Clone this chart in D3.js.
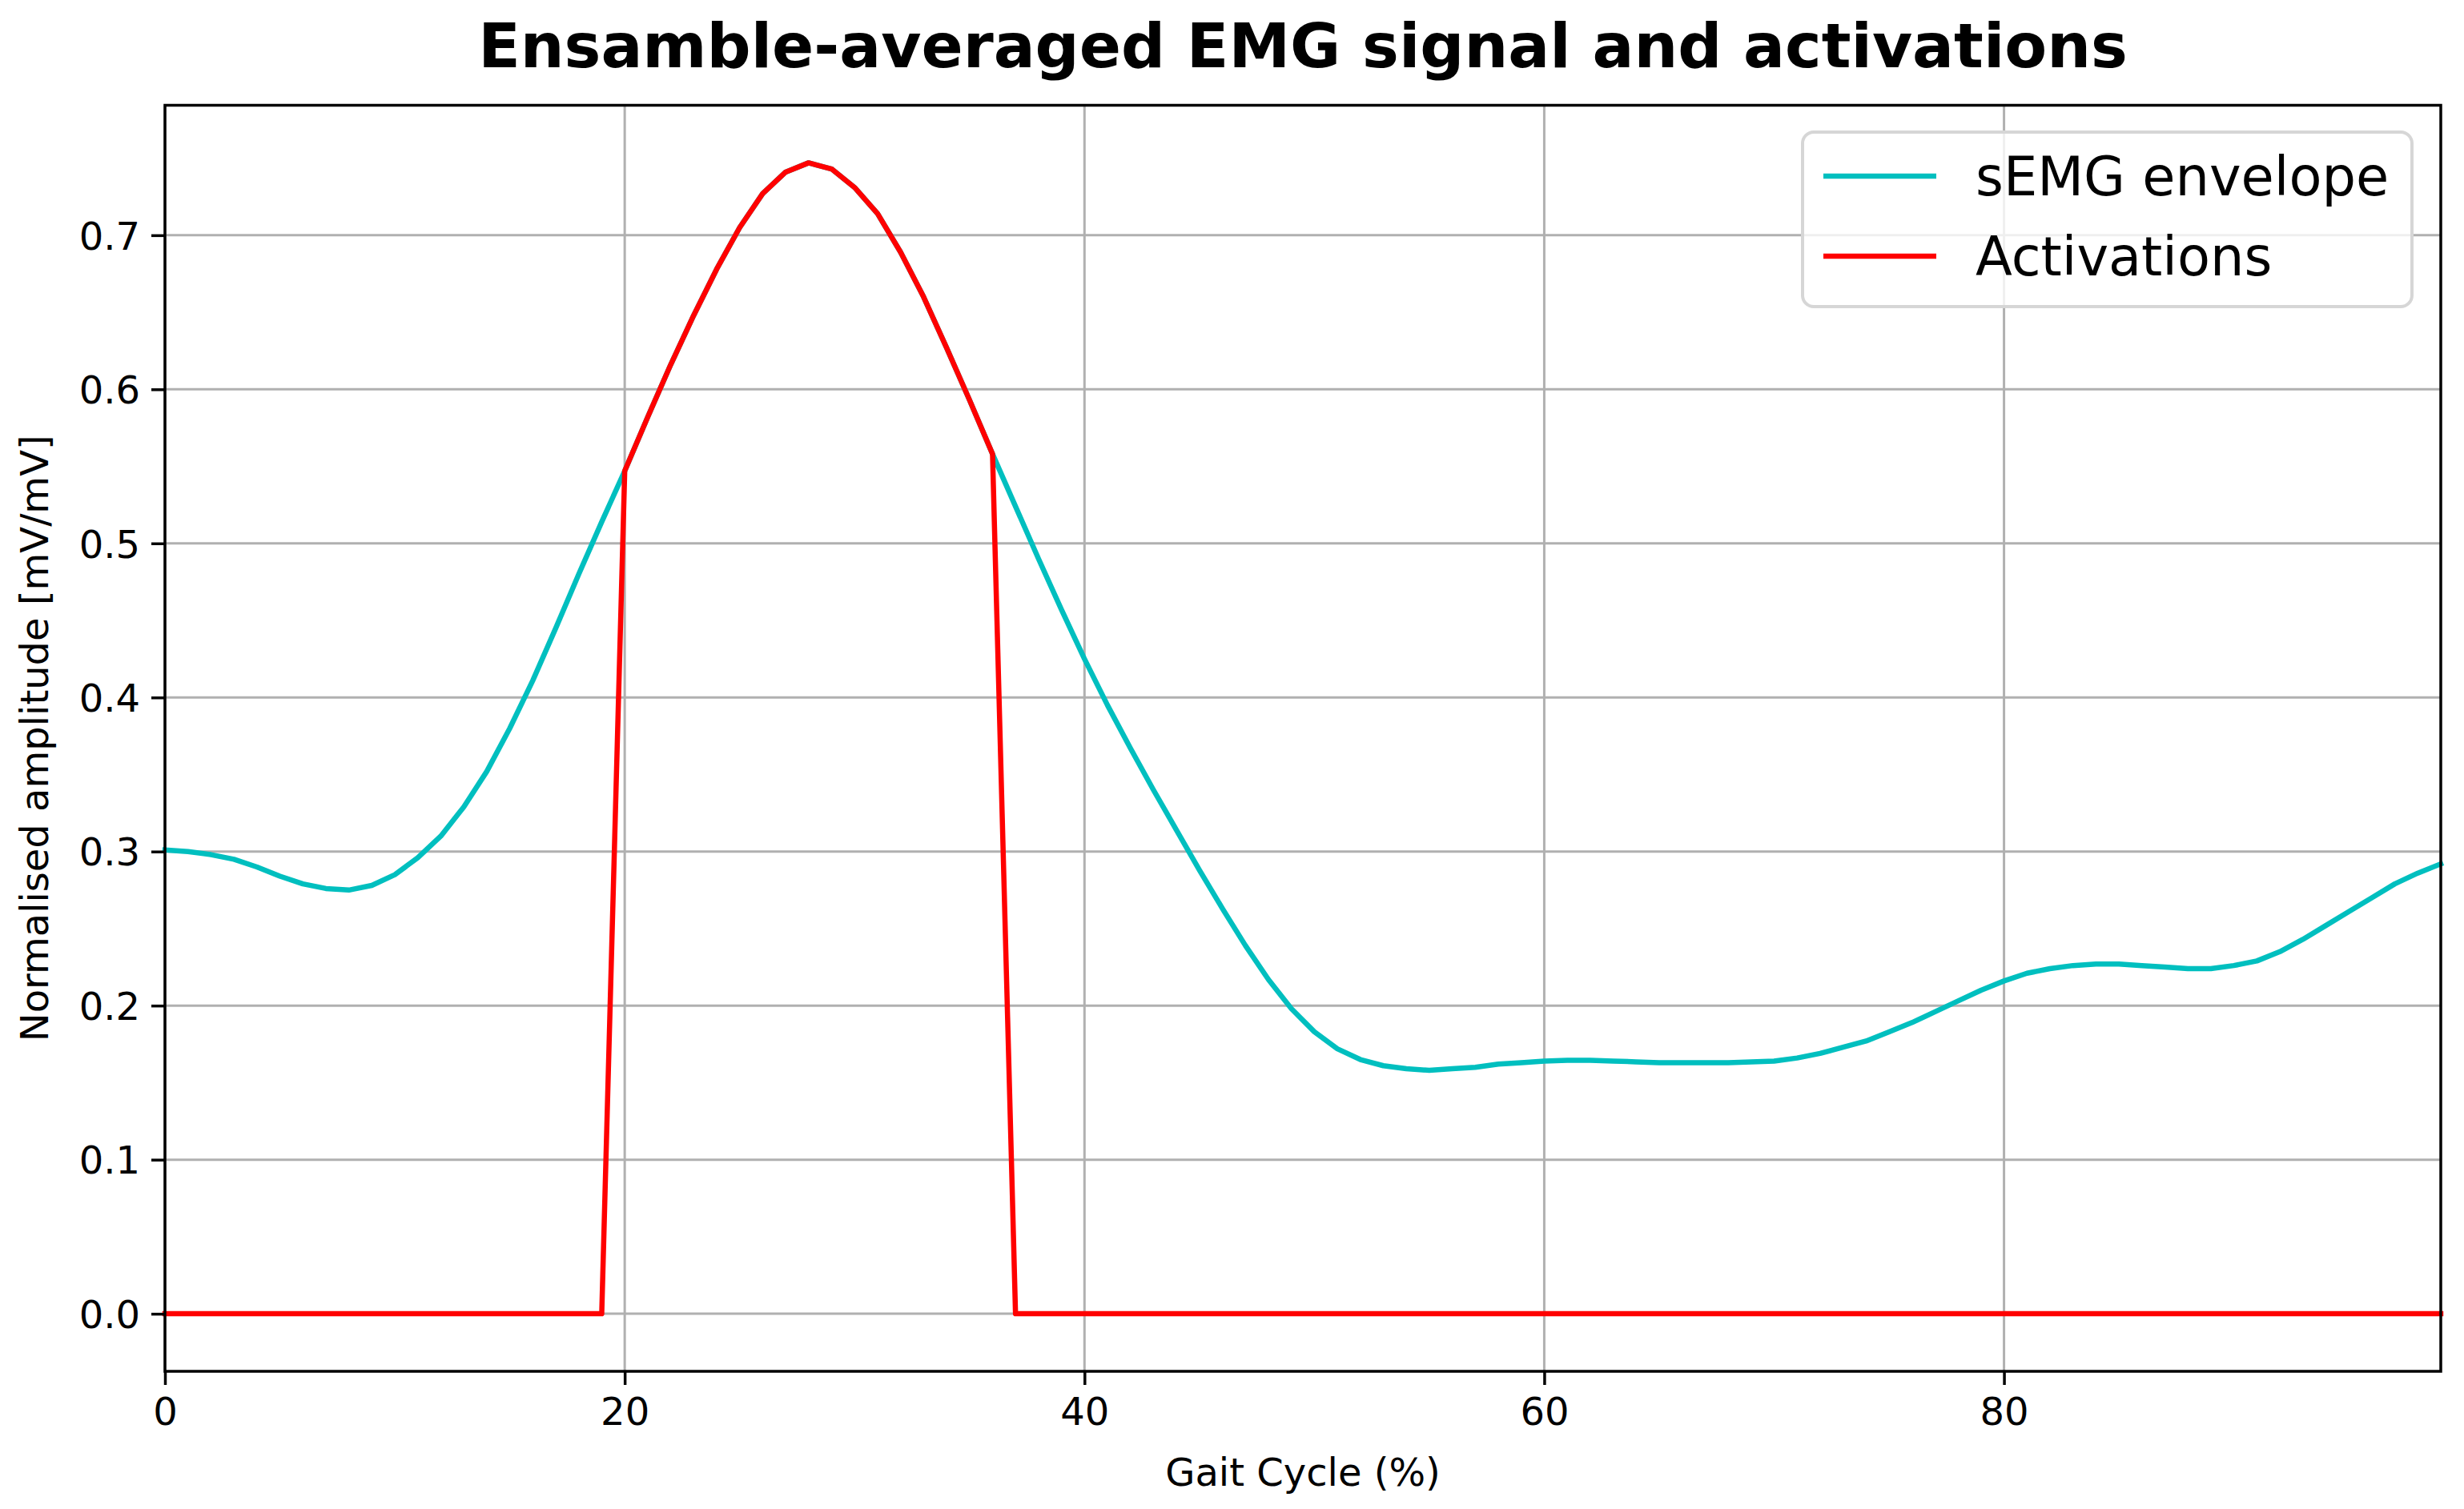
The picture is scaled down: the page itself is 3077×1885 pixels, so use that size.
<!DOCTYPE html>
<html>
<head>
<meta charset="utf-8">
<script src="https://cdn.jsdelivr.net/npm/d3@7"></script>
<style>
  body { margin: 0; background: #fff; }
  svg { display: block; font-family: "DejaVu Sans", sans-serif; }
</style>
</head>
<body>
<svg id="chart"></svg>
<script>
const width = 3077;
const height = 1885;
const margin = { top: 131.5, right: 29, bottom: 172, left: 206 };

// gait cycle samples (%), 0..99
const gaitCycle = d3.range(100);

// ensemble-averaged sEMG envelope
const envelope = [
  0.301, 0.300, 0.298, 0.295, 0.290, 0.284, 0.279, 0.276, 0.275, 0.278,
  0.285, 0.296, 0.310, 0.329, 0.352, 0.380, 0.411, 0.445, 0.480, 0.514,
  0.547, 0.582, 0.616, 0.648, 0.678, 0.705, 0.727, 0.741, 0.747, 0.743,
  0.731, 0.714, 0.689, 0.660, 0.627, 0.593, 0.558, 0.524, 0.490, 0.457,
  0.425, 0.395, 0.367, 0.340, 0.314, 0.288, 0.263, 0.239, 0.217, 0.198,
  0.183, 0.172, 0.165, 0.161, 0.159, 0.158, 0.159, 0.160, 0.162, 0.163,
  0.164, 0.1645, 0.1645, 0.164, 0.1635, 0.163, 0.163, 0.163, 0.163, 0.1635,
  0.164, 0.166, 0.169, 0.173, 0.177, 0.183, 0.189, 0.196, 0.203, 0.210,
  0.216, 0.221, 0.224, 0.226, 0.227, 0.227, 0.226, 0.225, 0.224, 0.224,
  0.226, 0.229, 0.235, 0.243, 0.252, 0.261, 0.270, 0.279, 0.286, 0.292
];

// activations: envelope where the muscle is on, zero elsewhere
const activations = [
  0, 0, 0, 0, 0, 0, 0, 0, 0, 0,
  0, 0, 0, 0, 0, 0, 0, 0, 0, 0,
  0.547, 0.582, 0.616, 0.648, 0.678, 0.705, 0.727, 0.741, 0.747, 0.743,
  0.731, 0.714, 0.689, 0.660, 0.627, 0.593, 0.558, 0, 0, 0,
  0, 0, 0, 0, 0, 0, 0, 0, 0, 0,
  0, 0, 0, 0, 0, 0, 0, 0, 0, 0,
  0, 0, 0, 0, 0, 0, 0, 0, 0, 0,
  0, 0, 0, 0, 0, 0, 0, 0, 0, 0,
  0, 0, 0, 0, 0, 0, 0, 0, 0, 0,
  0, 0, 0, 0, 0, 0, 0, 0, 0, 0
];

const xTicks = [0, 20, 40, 60, 80];
const yTicks = [0.0, 0.1, 0.2, 0.3, 0.4, 0.5, 0.6, 0.7];
const seriesNames = ["sEMG envelope", "Activations"];
const seriesColors = ["#00bfbf", "#ff0000"];

const svg = d3.select("#chart")
  .attr("width", width)
  .attr("height", height);

const x = d3.scaleLinear()
  .domain(d3.extent(gaitCycle))
  .range([margin.left, width - margin.right]);

// matplotlib-like 5% margin on y
const yMax = d3.max(envelope.concat(activations));
const yMin = 0;
const pad = (yMax - yMin) * 0.05;
const y = d3.scaleLinear()
  .domain([yMin - pad, yMax + pad])
  .range([height - margin.bottom, margin.top]);

const tickLen = 17;
const fontTick = 48;

// grid
svg.append("g")
  .selectAll("line.vgrid")
  .data(xTicks)
  .enter()
  .append("line")
  .attr("x1", d => x(d)).attr("x2", d => x(d))
  .attr("y1", margin.top).attr("y2", height - margin.bottom)
  .attr("stroke", "#b0b0b0")
  .attr("stroke-width", 3);

svg.append("g")
  .selectAll("line.hgrid")
  .data(yTicks)
  .enter()
  .append("line")
  .attr("x1", margin.left).attr("x2", width - margin.right)
  .attr("y1", d => y(d)).attr("y2", d => y(d))
  .attr("stroke", "#b0b0b0")
  .attr("stroke-width", 3);

// lines
const line = d3.line()
  .x((d, i) => x(gaitCycle[i]))
  .y(d => y(d));

[envelope, activations].forEach((values, k) => {
  svg.append("path")
    .datum(values)
    .attr("d", line)
    .attr("fill", "none")
    .attr("stroke", seriesColors[k])
    .attr("stroke-width", 6.5)
    .attr("stroke-linejoin", "round")
    .attr("stroke-linecap", "square");
});

// axes
const xAxis = d3.axisBottom(x)
  .tickValues(xTicks)
  .tickFormat(d3.format("d"))
  .tickSize(tickLen)
  .tickPadding(14);

const yAxis = d3.axisLeft(y)
  .tickValues(yTicks)
  .tickFormat(d3.format(".1f"))
  .tickSize(tickLen)
  .tickPadding(14);

const gx = svg.append("g")
  .attr("transform", `translate(0,${height - margin.bottom})`)
  .call(xAxis);

const gy = svg.append("g")
  .attr("transform", `translate(${margin.left},0)`)
  .call(yAxis);

[gx, gy].forEach(g => {
  g.select(".domain").remove();
  g.selectAll(".tick line").attr("stroke", "#000").attr("stroke-width", 3.5);
  g.selectAll(".tick text")
    .attr("fill", "#000")
    .style("font-family", "DejaVu Sans")
    .style("font-size", fontTick + "px");
});
gx.selectAll(".tick text").attr("dy", "0.76em");
gy.selectAll(".tick text").attr("dy", "0.36em");

// frame
svg.append("rect")
  .attr("x", margin.left)
  .attr("y", margin.top)
  .attr("width", width - margin.left - margin.right)
  .attr("height", height - margin.top - margin.bottom)
  .attr("fill", "none")
  .attr("stroke", "#000")
  .attr("stroke-width", 3.5);

// title and labels
svg.append("text")
  .attr("x", (margin.left + width - margin.right) / 2)
  .attr("y", 84)
  .attr("text-anchor", "middle")
  .style("font-size", "77px")
  .style("font-weight", "bold")
  .text("Ensamble-averaged EMG signal and activations");

svg.append("text")
  .attr("x", (margin.left + width - margin.right) / 2)
  .attr("y", 1856)
  .attr("text-anchor", "middle")
  .style("font-size", "48px")
  .text("Gait Cycle (%)");

svg.append("text")
  .attr("transform", `translate(60,${(margin.top + height - margin.bottom) / 2}) rotate(-90)`)
  .attr("text-anchor", "middle")
  .style("font-size", "48px")
  .text("Normalised amplitude [mV/mV]");

// legend
const legend = svg.append("g").attr("transform", "translate(2251,165)");
legend.append("rect")
  .attr("width", 761)
  .attr("height", 218)
  .attr("rx", 14)
  .attr("fill", "#fff")
  .attr("fill-opacity", 0.8)
  .attr("stroke", "#d6d6d6")
  .attr("stroke-width", 4);

legend.selectAll("g.item")
  .data(seriesNames)
  .enter()
  .append("g")
  .attr("class", "item")
  .attr("transform", (d, i) => `translate(0,${55 + i * 100})`)
  .each(function (d, i) {
    const item = d3.select(this);
    item.append("line")
      .attr("x1", 26).attr("x2", 167)
      .attr("stroke", seriesColors[i])
      .attr("stroke-width", 6.5);
    item.append("text")
      .attr("x", 216)
      .attr("dy", "0.36em")
      .style("font-size", "67px")
      .text(d);
  });
</script>
</body>
</html>
